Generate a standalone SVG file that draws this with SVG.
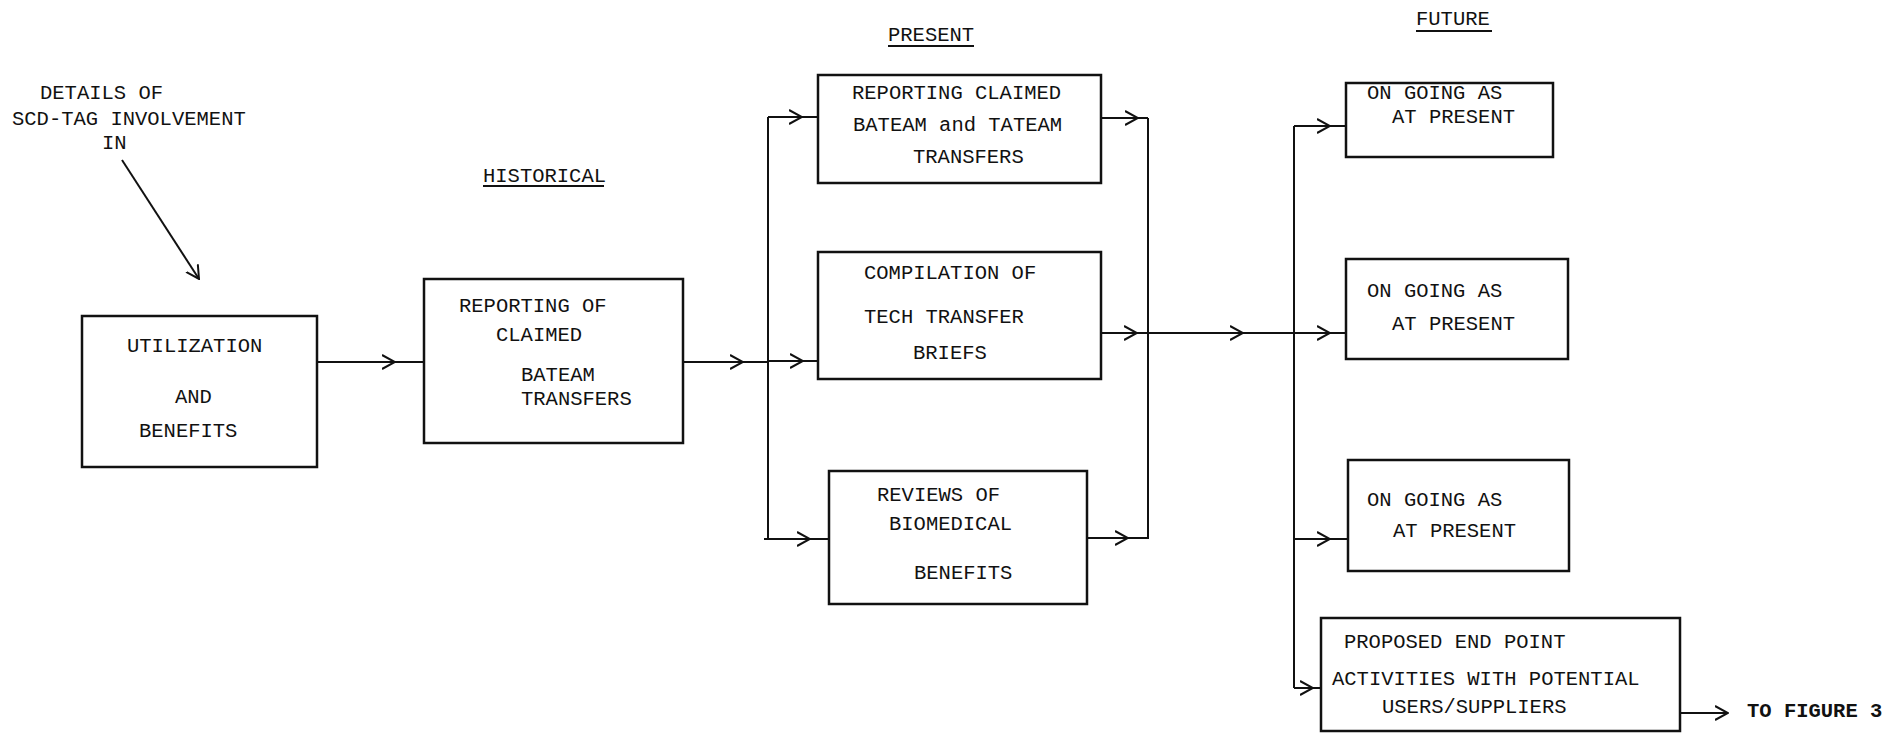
<svg xmlns="http://www.w3.org/2000/svg" width="1903" height="734" viewBox="0 0 1903 734">
<defs>
<marker id="arr" viewBox="0 0 14 16" refX="13" refY="8" markerWidth="14" markerHeight="16" markerUnits="userSpaceOnUse" orient="auto">
<path d="M0,1 L13,8 L0,15" fill="none" stroke="#111" stroke-width="2"/>
</marker>
<style>
.box{fill:#fff;stroke:#111;stroke-width:2.5}
.t{font-family:"Liberation Mono","DejaVu Sans Mono",monospace;font-size:20.5px;fill:#111}
.b{font-weight:bold}
.c{fill:none;stroke:#111;stroke-width:2}
.ca{fill:none;stroke:#111;stroke-width:2;marker-mid:url(#arr)}
.ce{fill:none;stroke:#111;stroke-width:2;marker-end:url(#arr)}
.u{stroke:#111;stroke-width:2}
</style>
</defs>
<rect width="1903" height="734" fill="#fff"/>

<g id="headings">
<text class="t" x="483" y="182">HISTORICAL</text>
<line class="u" x1="483" y1="186" x2="604" y2="186"/>
<text class="t" x="888" y="41">PRESENT</text>
<line class="u" x1="888" y1="46" x2="974" y2="46"/>
<text class="t" x="1416" y="25">FUTURE</text>
<line class="u" x1="1416" y1="31" x2="1492" y2="31"/>
</g>

<g id="details">
<text class="t" x="40" y="99">DETAILS OF</text>
<text class="t" x="12" y="125">SCD-TAG INVOLVEMENT</text>
<text class="t" x="102" y="149">IN</text>
</g>

<g id="connectors">
<path class="ce" d="M122,160 L199,279"/>
<path class="ca" d="M317,362 L395,362 L424,362"/>
<path class="ca" d="M683,362 L743,362 L768,362"/>
<path class="c" d="M768,117 L768,539"/>
<path class="ca" d="M768,117 L802,117 L818,117"/>
<path class="ca" d="M768,361 L803,361 L818,361"/>
<path class="ca" d="M764,539 L810,539 L829,539"/>
<path class="ca" d="M1101,118 L1138,118 L1148,118"/>
<path class="ca" d="M1101,333 L1137,333 L1243,333 L1330,333 L1346,333"/>
<path class="ca" d="M1087,538 L1128,538 L1148,538"/>
<path class="c" d="M1148,118 L1148,539"/>
<path class="c" d="M1294,126 L1294,688"/>
<path class="ca" d="M1294,126 L1330,126 L1346,126"/>
<path class="ca" d="M1294,539 L1330,539 L1348,539"/>
<path class="ca" d="M1294,688 L1313,688 L1321,688"/>
<path class="ce" d="M1680,713 L1728,713"/>
</g>

<g id="utilization">
<rect class="box" x="82" y="316" width="235" height="151"/>
<text class="t" x="127" y="352">UTILIZATION</text>
<text class="t" x="175" y="403">AND</text>
<text class="t" x="139" y="437">BENEFITS</text>
</g>

<g id="historical-reporting">
<rect class="box" x="424" y="279" width="259" height="164"/>
<text class="t" x="459" y="312">REPORTING OF</text>
<text class="t" x="496" y="341">CLAIMED</text>
<text class="t" x="521" y="381">BATEAM</text>
<text class="t" x="521" y="405">TRANSFERS</text>
</g>

<g id="present-reporting">
<rect class="box" x="818" y="75" width="283" height="108"/>
<text class="t" x="852" y="99">REPORTING CLAIMED</text>
<text class="t" x="853" y="131">BATEAM and TATEAM</text>
<text class="t" x="913" y="163">TRANSFERS</text>
</g>

<g id="present-compilation">
<rect class="box" x="818" y="252" width="283" height="127"/>
<text class="t" x="864" y="279">COMPILATION OF</text>
<text class="t" x="864" y="323">TECH TRANSFER</text>
<text class="t" x="913" y="359">BRIEFS</text>
</g>

<g id="present-reviews">
<rect class="box" x="829" y="471" width="258" height="133"/>
<text class="t" x="877" y="501">REVIEWS OF</text>
<text class="t" x="889" y="530">BIOMEDICAL</text>
<text class="t" x="914" y="579">BENEFITS</text>
</g>

<g id="future-1">
<rect class="box" x="1346" y="83" width="207" height="74"/>
<text class="t" x="1367" y="99">ON GOING AS</text>
<text class="t" x="1392" y="123">AT PRESENT</text>
</g>

<g id="future-2">
<rect class="box" x="1346" y="259" width="222" height="100"/>
<text class="t" x="1367" y="297">ON GOING AS</text>
<text class="t" x="1392" y="330">AT PRESENT</text>
</g>

<g id="future-3">
<rect class="box" x="1348" y="460" width="221" height="111"/>
<text class="t" x="1367" y="506">ON GOING AS</text>
<text class="t" x="1393" y="537">AT PRESENT</text>
</g>

<g id="future-endpoint">
<rect class="box" x="1321" y="618" width="359" height="113"/>
<text class="t" x="1344" y="648">PROPOSED END POINT</text>
<text class="t" x="1332" y="685">ACTIVITIES WITH POTENTIAL</text>
<text class="t" x="1382" y="713">USERS/SUPPLIERS</text>
</g>

<g id="to-figure-3">
<text class="t b" x="1747" y="717">TO FIGURE 3</text>
</g>
</svg>
